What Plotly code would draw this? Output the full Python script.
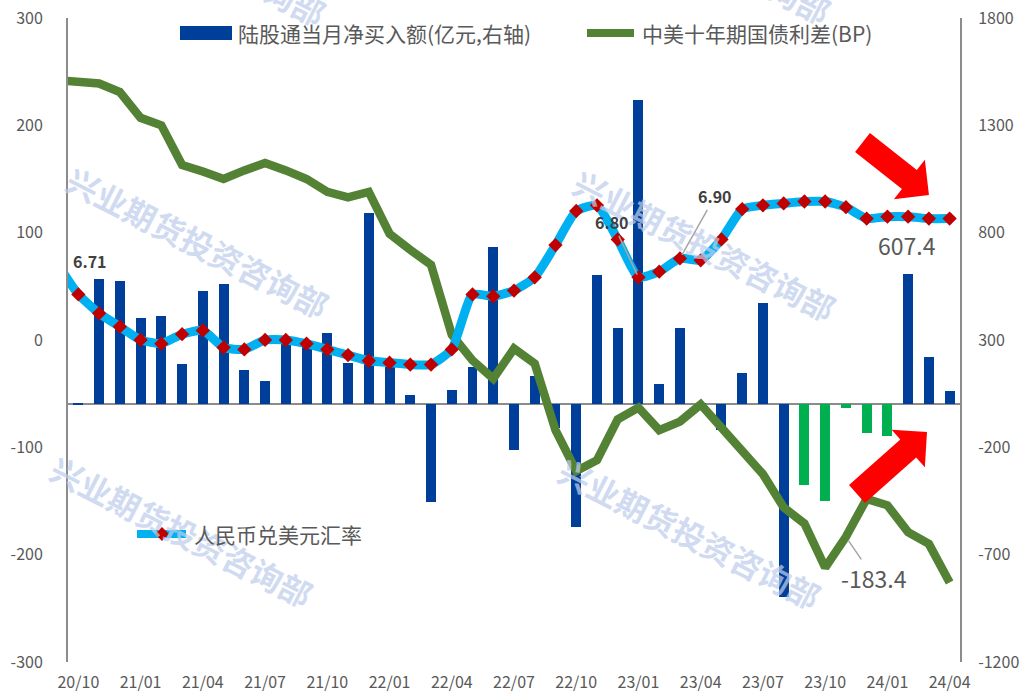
import math

import plotly.graph_objects as go

# months (first one, 20/09, only feeds the lines and sits left of the visible range)
months = [
    "20/09", "20/10", "20/11", "20/12", "21/01", "21/02", "21/03", "21/04", "21/05", "21/06",
    "21/07", "21/08", "21/09", "21/10", "21/11", "21/12", "22/01", "22/02", "22/03", "22/04",
    "22/05", "22/06", "22/07", "22/08", "22/09", "22/10", "22/11", "22/12", "23/01", "23/02",
    "23/03", "23/04", "23/05", "23/06", "23/07", "23/08", "23/09", "23/10", "23/11", "23/12",
    "24/01", "24/02", "24/03", "24/04",
]
tick_months = ["20/10", "21/01", "21/04", "21/07", "21/10", "22/01", "22/04", "22/07",
               "22/10", "23/01", "23/04", "23/07", "23/10", "24/01", "24/04"]

# 陆股通当月净买入额 (亿元), 20/10 .. 24/04
flow = [
    5, 582, 576, 403, 414, 190, 529, 563, 158, 111,
    295, 276, 332, 191, 892, 175, 43, -454, 66, 175,
    734, -213, 131, -112, -571, 605, 354, 1418, 97, 358,
    2, -120, 144, 473, -897, -377, -450, -19, -131, -148,
    607.4, 221, 62,
]
# months whose bars are drawn green
highlight = ["23/09", "23/10", "23/11", "23/12", "24/01"]

# 中美十年期国债利差 (BP), 20/09 .. 24/04
spread = [
    242, 240, 239, 231, 207, 200, 163, 157, 150, 158,
    165, 158, 150, 138, 133, 138, 99, 84, 70, 5,
    -19, -36, -8, -22, -84, -122, -112, -74, -63, -84,
    -76, -60, -82, -104, -125, -156, -171, -212, -183.4, -148,
    -154, -179, -190, -226,
]

# 人民币兑美元汇率, 20/09 .. 24/04
usdcny = [
    6.87, 6.71, 6.61, 6.54, 6.47, 6.45, 6.50, 6.52, 6.43, 6.42,
    6.47, 6.47, 6.45, 6.42, 6.39, 6.36, 6.35, 6.34, 6.34, 6.42,
    6.71, 6.70, 6.73, 6.80, 6.97, 7.15, 7.18, 7.00, 6.80, 6.83,
    6.90, 6.89, 7.00, 7.16, 7.18, 7.19, 7.20, 7.20, 7.17, 7.11,
    7.12, 7.12, 7.11, 7.11,
]

left_ticks = [-300, -200, -100, 0, 100, 200, 300]
right_ticks = [-1200, -700, -200, 300, 800, 1300, 1800]

BLUE = "#003F99"
BAR_GREEN = "#00B050"
GREEN = "#548235"
SKY = "#00B0F0"
RED = "#C00000"
AXIS = "#8C8C8C"
TEXT = "#595959"
FONT = "Microsoft YaHei, Noto Sans CJK SC, sans-serif"

W, H = 1023, 694
L, R, T, B = 68, 63, 18, 32


def px(x):
    return (x - L) / (W - L - R)


def py(y):
    return (H - B - y) / (H - T - B)


def block_arrow(tail, tip, shaft=24, head=50, head_len=25):
    (x0, y0), (x1, y1) = tail, tip
    d = math.hypot(x1 - x0, y1 - y0)
    ux, uy = (x1 - x0) / d, (y1 - y0) / d
    nx, ny = -uy, ux
    bx, by = x1 - ux * head_len, y1 - uy * head_len
    pts = [
        (x0 + nx * shaft / 2, y0 + ny * shaft / 2),
        (bx + nx * shaft / 2, by + ny * shaft / 2),
        (bx + nx * head / 2, by + ny * head / 2),
        (x1, y1),
        (bx - nx * head / 2, by - ny * head / 2),
        (bx - nx * shaft / 2, by - ny * shaft / 2),
        (x0 - nx * shaft / 2, y0 - ny * shaft / 2),
    ]
    return "M " + " L ".join(f"{px(x):.4f},{py(y):.4f}" for x, y in pts) + " Z"


bar_months = months[1:]
bar_colors = [BAR_GREEN if m in highlight else BLUE for m in bar_months]

fig = go.Figure()

fig.add_trace(go.Bar(
    x=bar_months, y=flow, yaxis="y", width=0.48,
    marker=dict(color=bar_colors, line=dict(width=0)),
    name="陆股通当月净买入额(亿元,右轴)",
))
fig.add_trace(go.Scatter(
    x=months, y=spread, yaxis="y2", mode="lines",
    line=dict(color=GREEN, width=8.5),
    name="中美十年期国债利差(BP)",
))
fig.add_trace(go.Scatter(
    x=months, y=usdcny, yaxis="y3", mode="lines+markers",
    line=dict(color=SKY, width=9, shape="spline", smoothing=0.5),
    marker=dict(symbol="diamond", size=11, color=RED),
    name="人民币兑美元汇率",
))

fig.update_layout(
    width=W, height=H,
    autosize=False,
    margin=dict(l=L, r=R, t=T, b=B, pad=0, autoexpand=False),
    paper_bgcolor="white", plot_bgcolor="white",
    showlegend=False,
    font=dict(family=FONT, size=16, color=TEXT),
    bargap=0,
    xaxis=dict(
        type="category", categoryorder="array", categoryarray=months,
        range=[0.5, len(months) - 0.5], automargin=False,
        tickmode="array", tickvals=tick_months, ticktext=tick_months,
        showgrid=False, zeroline=False, showline=False, ticks="",
        ticklabelstandoff=9,
    ),
    yaxis=dict(
        side="right", range=[-1200, 1800], automargin=False,
        tickmode="array", tickvals=right_ticks, ticktext=[str(v) for v in right_ticks],
        showgrid=False, showline=True, linecolor=AXIS, linewidth=2,
        zeroline=True, zerolinecolor=AXIS, zerolinewidth=2,
        ticks="", ticklabelstandoff=13,
    ),
    yaxis2=dict(
        overlaying="y", side="left", range=[-300, 300], automargin=False,
        tickmode="array", tickvals=left_ticks, ticktext=[str(v) for v in left_ticks],
        showgrid=False, showline=True, linecolor=AXIS, linewidth=2,
        zeroline=False, ticks="", ticklabelstandoff=20,
    ),
    yaxis3=dict(overlaying="y", visible=False, range=[4.771, 8.168], automargin=False),
)

# hand-drawn legend keys
shapes = [
    dict(type="rect", xref="paper", yref="paper", x0=px(180), x1=px(232), y0=py(40), y1=py(26),
         fillcolor=BLUE, line=dict(width=0)),
    dict(type="line", xref="paper", yref="paper", x0=px(587), x1=px(634), y0=py(33), y1=py(33),
         line=dict(color=GREEN, width=8)),
    dict(type="line", xref="paper", yref="paper", x0=px(137), x1=px(186), y0=py(534), y1=py(534),
         line=dict(color=SKY, width=8)),
    dict(type="path", xref="paper", yref="paper",
         path=f"M {px(162)},{py(527)} L {px(169)},{py(534)} L {px(162)},{py(541)} L {px(155)},{py(534)} Z",
         fillcolor=RED, line=dict(width=0)),
    # red block arrows
    dict(type="path", xref="paper", yref="paper", path=block_arrow((862.5, 142.5), (929, 195)),
         fillcolor="#FF0000", line=dict(width=0)),
    dict(type="path", xref="paper", yref="paper", path=block_arrow((857, 494), (927, 432)),
         fillcolor="#FF0000", line=dict(width=0)),
]

annotations = []
# watermark
for cx, cy in [(195, -50), (700, -52), (198, 242), (705, 245), (182, 531), (690, 533)]:
    annotations.append(dict(
        text="<b>兴业期货投资咨询部</b>", xref="paper", yref="paper", x=px(cx), y=py(cy),
        xanchor="center", yanchor="middle", textangle=27, showarrow=False,
        font=dict(size=32, color="rgba(190,206,236,0.72)"),
    ))

legend_text = [
    ("陆股通当月净买入额(亿元,右轴)", 236, 33),
    ("中美十年期国债利差(BP)", 640, 33),
    ("人民币兑美元汇率", 192, 534),
]
for txt, lx, ly in legend_text:
    annotations.append(dict(
        text=txt, xref="paper", yref="paper", x=px(lx), y=py(ly),
        xanchor="left", yanchor="middle", showarrow=False,
        font=dict(size=21, color=TEXT),
    ))

# value labels
bold = dict(size=16, color="#404040")
annotations += [
    dict(x="20/10", y=usdcny[1], xref="x", yref="y3", text="<b>6.71</b>", showarrow=False,
         xshift=12, yshift=33, font=bold),
    dict(x="23/01", y=6.80, xref="x", yref="y3", text="<b>6.80</b>", showarrow=True,
         arrowhead=0, arrowwidth=1.5, arrowcolor="#A6A6A6", ax=-26, ay=-55, standoff=3, font=bold),
    dict(x="23/03", y=6.90, xref="x", yref="y3", text="<b>6.90</b>", showarrow=True,
         arrowhead=0, arrowwidth=1.5, arrowcolor="#A6A6A6", ax=35, ay=-62, standoff=4, font=bold),
    dict(x="24/02", y=607.4, xref="x", yref="y", text="607.4", showarrow=False,
         xshift=-1, yshift=29, font=dict(size=23, color=TEXT)),
    dict(x="23/11", y=-183.4, xref="x", yref="y2", text="-183.4", showarrow=True,
         arrowhead=0, arrowwidth=1.5, arrowcolor="#A6A6A6", ax=28, ay=41, standoff=4,
         font=dict(size=23, color=TEXT)),
]

fig.update_layout(shapes=shapes, annotations=annotations)

# the page's default body margin would push the chart 8px off the window corner
fig.write_html(
    "out.html",
    config={"displayModeBar": False},
    post_script="document.body.style.margin = '0';",
)
